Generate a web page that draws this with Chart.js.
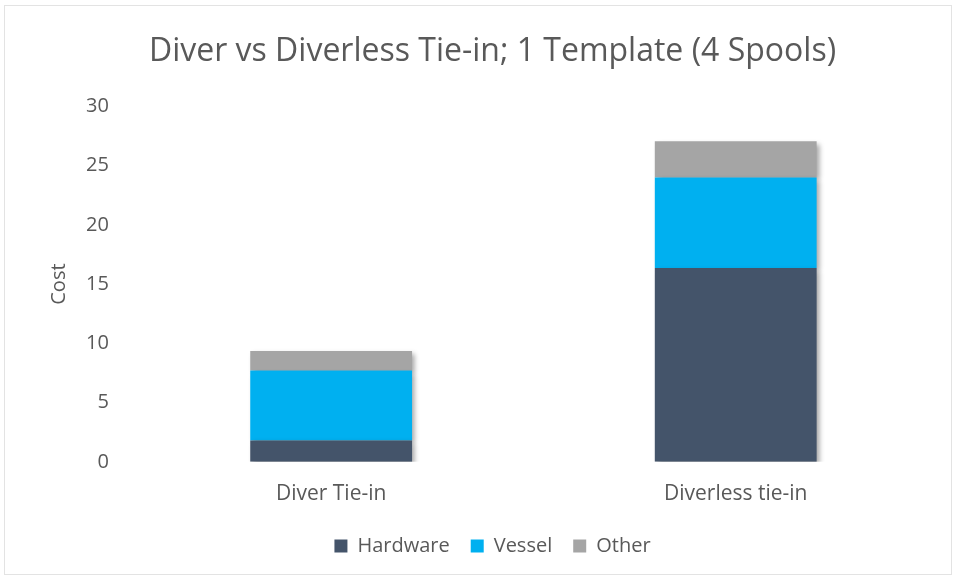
<!DOCTYPE html>
<html><head><meta charset="utf-8">
<script src="https://cdn.jsdelivr.net/npm/chart.js@4/dist/chart.umd.min.js"></script>
<style>
html,body{margin:0;padding:0;background:#fff;}
#wrap{position:absolute;left:4px;top:5px;width:948px;height:570px;border:1px solid #E3E3E3;box-sizing:border-box;}
</style></head>
<body><div id="wrap"><canvas id="c"></canvas></div>
<script>
const categories = ["Diver Tie-in", "Diverless tie-in"];
const hardware = [1.8, 16.35];
const vessel = [5.9, 7.65];
const other = [1.65, 3.05];
const seriesNames = ["Hardware", "Vessel", "Other"];
const yTicks = [0, 5, 10, 15, 20, 25, 30];

const FONT = "'Open Sans', 'Liberation Sans', sans-serif";
const GREY = "#595959";

const shadowPlugin = {
  id: 'shadow',
  beforeDatasetsDraw(chart) {
    const ctx = chart.ctx;
    ctx.save();
    ctx.shadowColor = 'rgba(0,0,0,0.35)';
    ctx.shadowOffsetX = 3;
    ctx.shadowOffsetY = 3;
    ctx.shadowBlur = 5;
  },
  afterDatasetsDraw(chart) { chart.ctx.restore(); }
};

new Chart(document.getElementById('c'), {
  type: 'bar',
  data: {
    labels: categories,
    datasets: [
      { label: seriesNames[0], data: hardware, backgroundColor: '#44546A' },
      { label: seriesNames[1], data: vessel, backgroundColor: '#00B0F0' },
      { label: seriesNames[2], data: other, backgroundColor: '#A5A5A5' }
    ]
  },
  options: {
    responsive: true,
    maintainAspectRatio: false,
    animation: false,
    layout: { padding: { left: 42, right: 13, top: 10, bottom: 8 } },
    datasets: { bar: { barPercentage: 0.4, categoryPercentage: 1.0 } },
    plugins: {
      title: {
        display: true,
        text: 'Diver vs Diverless Tie-in; 1 Template (4 Spools)',
        color: GREY,
        font: { family: FONT, size: 32, weight: 'normal' },
        padding: { top: 17, bottom: 35 }
      },
      legend: {
        position: 'bottom',
        labels: {
          color: GREY,
          font: { family: FONT, size: 20 },
          boxWidth: 13, boxHeight: 13,
          padding: 21
        }
      },
      tooltip: { enabled: false }
    },
    scales: {
      x: {
        stacked: true,
        grid: { display: false, drawTicks: false },
        border: { display: false },
        ticks: { color: GREY, font: { family: FONT, size: 21 }, padding: 20 },
        afterFit(scale) { scale.height -= 12; }
      },
      y: {
        stacked: true,
        min: 0, max: 30,
        afterBuildTicks(axis) { axis.ticks = yTicks.map(v => ({ value: v })); },
        grid: { display: false, drawTicks: false },
        border: { display: false },
        ticks: { color: GREY, font: { family: FONT, size: 20 }, padding: 20 },
        title: { display: true, text: 'Cost', color: GREY, font: { family: FONT, size: 20 }, padding: { top: 0, bottom: -5 } }
      }
    }
  },
  plugins: [shadowPlugin]
});
</script></body></html>
